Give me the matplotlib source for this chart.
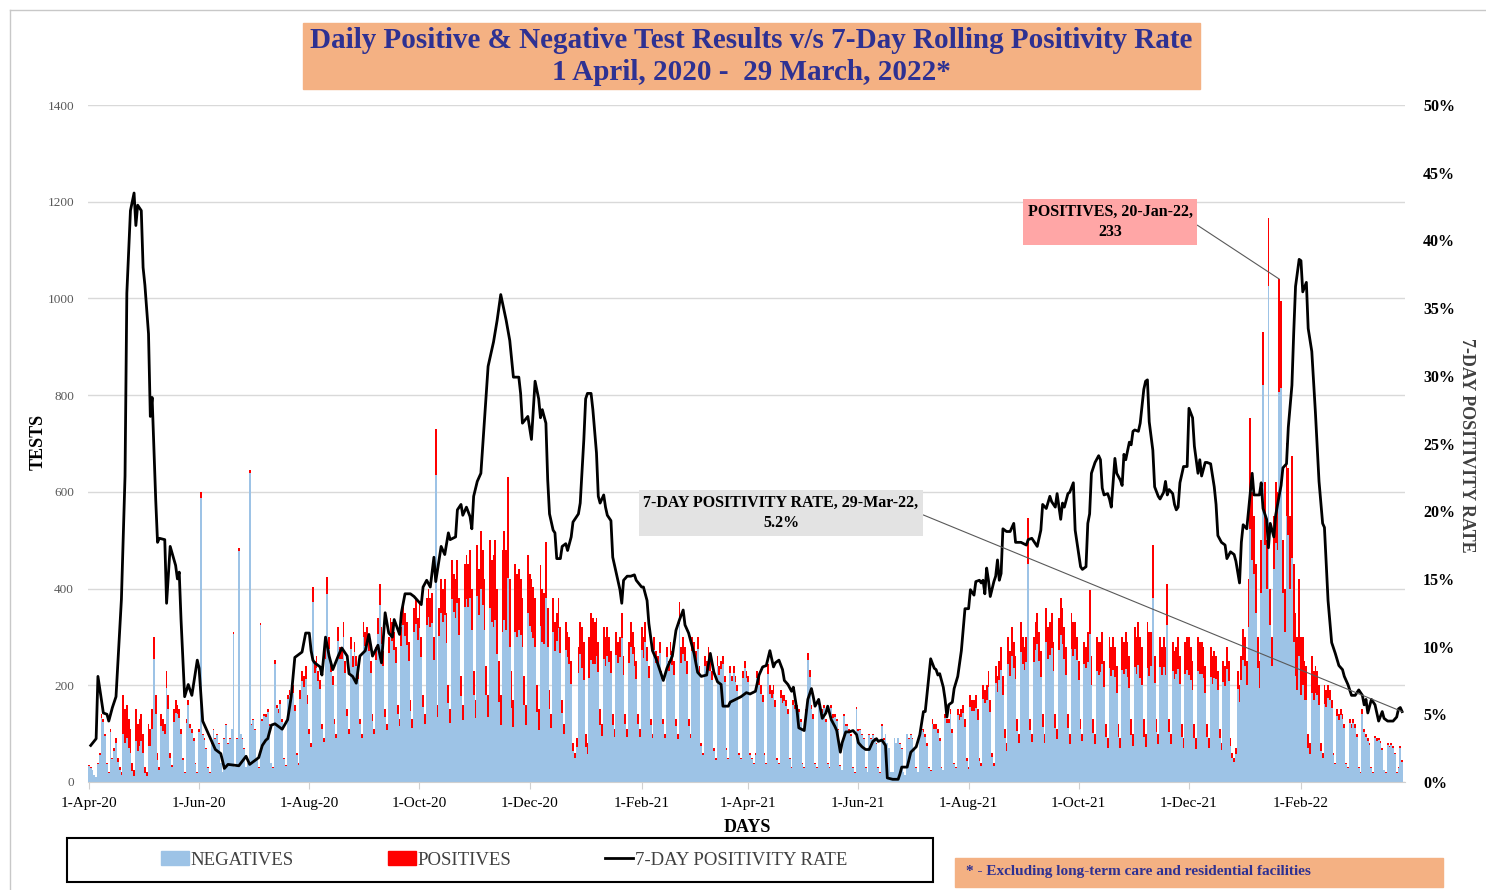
import numpy as np
import pandas as pd
import matplotlib
matplotlib.use("Agg")
import matplotlib.pyplot as plt
import matplotlib.dates as mdates
from matplotlib.patches import Rectangle, Patch
from matplotlib.lines import Line2D
from matplotlib.ticker import FuncFormatter

plt.rcParams['font.family'] = ['Liberation Serif', 'DejaVu Serif']

start = pd.Timestamp("2020-04-01")
days = pd.date_range("2020-04-01", "2022-03-29", freq="D")

# daily tests (negatives + positives), one row per week, Wed..Tue
total_tests = [
    [35, 30, 25, 15, 10, 40, 60], [140, 130, 100, 40, 20, 110, 50], [70, 90, 50, 30, 20, 180, 150],
    [160, 130, 110, 40, 25, 150, 120], [130, 140, 100, 30, 20, 120, 110], [150, 300, 180, 60, 30, 140, 130],
    [120, 230, 180, 60, 35, 150, 170], [160, 150, 110, 50, 20, 130, 170], [120, 110, 90, 40, 20, 110, 600],
    [100, 90, 70, 30, 20, 80, 110], [90, 100, 80, 40, 20, 90, 120], [80, 90, 110, 311, 30, 90, 484],
    [100, 90, 70, 30, 40, 645, 120], [130, 110, 50, 30, 329, 130, 140], [140, 150, 120, 40, 30, 252, 160],
    [150, 170, 130, 50, 35, 180, 190], [180, 200, 160, 60, 40, 190, 230], [220, 240, 180, 110, 80, 403, 250],
    [260, 230, 210, 120, 90, 280, 424], [300, 250, 220, 130, 100, 320, 280], [280, 330, 250, 150, 110, 300, 260],
    [290, 260, 230, 130, 100, 330, 310], [320, 300, 250, 140, 110, 280, 340], [410, 320, 270, 150, 120, 300, 340],
    [330, 310, 280, 160, 130, 320, 370], [350, 330, 290, 170, 130, 360, 380], [340, 370, 300, 180, 140, 380, 400],
    [380, 390, 300, 729, 160, 360, 420], [400, 420, 350, 200, 150, 460, 430], [420, 460, 380, 220, 160, 450, 470],
    [450, 480, 400, 230, 170, 490, 440], [520, 480, 420, 240, 180, 500, 460], [470, 500, 400, 250, 180, 480, 520],
    [480, 631, 420, 230, 170, 450, 430], [440, 420, 380, 220, 160, 470, 430], [420, 403, 380, 200, 150, 448, 400],
    [390, 496, 360, 190, 140, 380, 330], [350, 380, 320, 170, 120, 330, 310], [300, 250, 80, 60, 90, 280, 330],
    [320, 290, 100, 80, 300, 350, 340], [330, 340, 290, 150, 120, 320, 300], [320, 300, 270, 140, 110, 310, 290],
    [300, 350, 260, 140, 110, 290, 330], [310, 280, 250, 140, 110, 320, 300], [330, 280, 240, 130, 100, 300, 270],
    [260, 290, 230, 130, 100, 280, 250], [290, 270, 250, 130, 100, 372, 280], [300, 280, 250, 130, 100, 300, 290],
    [270, 300, 240, 80, 60, 260, 250], [280, 250, 230, 70, 50, 260, 240], [250, 260, 220, 70, 50, 240, 220],
    [240, 220, 200, 60, 50, 230, 250], [230, 220, 60, 50, 40, 60, 230], [218, 200, 180, 60, 40, 245, 200],
    [190, 200, 170, 50, 40, 190, 180], [180, 170, 150, 50, 30, 170, 160], [160, 150, 130, 40, 30, 150, 266],
    [231, 160, 140, 40, 30, 170, 150], [150, 160, 130, 40, 30, 160, 140], [140, 130, 110, 35, 25, 140, 120],
    [120, 110, 100, 30, 20, 155, 110], [110, 100, 90, 30, 20, 100, 90], [100, 90, 80, 30, 20, 120, 90],
    [100, 80, 70, 20, 20, 90, 80], [90, 80, 70, 20, 15, 100, 90], [100, 90, 70, 30, 20, 100, 110],
    [110, 100, 80, 30, 25, 130, 120], [120, 110, 90, 30, 25, 140, 130], [130, 150, 110, 40, 30, 150, 140],
    [150, 160, 130, 50, 30, 180, 170], [170, 180, 150, 50, 40, 200, 190], [200, 230, 170, 60, 40, 240, 220],
    [250, 280, 220, 110, 80, 300, 270], [320, 290, 260, 130, 100, 330, 300], [280, 300, 545, 130, 100, 300, 330],
    [350, 310, 270, 140, 100, 360, 320], [330, 350, 290, 140, 110, 340, 380], [360, 320, 280, 140, 100, 350, 330],
    [330, 300, 250, 130, 100, 290, 280], [310, 397, 260, 130, 100, 300, 290], [290, 310, 250, 120, 90, 300, 280],
    [300, 280, 240, 120, 90, 300, 290], [310, 290, 260, 130, 100, 320, 300], [330, 300, 280, 130, 100, 330, 310],
    [310, 490, 260, 130, 100, 300, 280], [300, 280, 410, 130, 100, 290, 270], [280, 300, 260, 120, 90, 290, 300],
    [300, 280, 250, 120, 90, 300, 290], [290, 280, 240, 120, 90, 280, 260], [270, 260, 230, 110, 80, 250, 240],
    [280, 250, 90, 60, 50, 70, 230], [200, 260, 317, 300, 250, 420, 753], [600, 550, 450, 300, 250, 500, 931],
    [620, 500, 1167, 400, 300, 550, 620], [600, 1040, 994, 500, 400, 700, 650], [550, 674, 450, 350, 300, 420, 300],
    [300, 250, 240, 100, 80, 260, 230], [240, 230, 200, 80, 60, 200, 190], [200, 190, 170, 60, 40, 150, 140],
    [150, 140, 120, 40, 30, 130, 120], [130, 120, 100, 30, 20, 150, 110], [100, 90, 80, 30, 20, 95, 90],
    [90, 85, 70, 25, 20, 80, 75], [80, 75, 60, 20, 30, 75, 45],
]

positives = [
    [1, 1, 1, 1, 0, 3, 4], [7, 6, 5, 2, 1, 6, 3], [6, 10, 8, 6, 5, 80, 70],
    [70, 60, 50, 18, 12, 65, 55], [55, 55, 40, 12, 8, 45, 35], [40, 45, 40, 15, 6, 25, 25],
    [20, 35, 30, 10, 5, 25, 28], [20, 18, 10, 5, 2, 8, 10], [8, 8, 6, 3, 1, 7, 12],
    [3, 3, 2, 1, 1, 2, 3], [2, 2, 1, 1, 0, 1, 2], [1, 1, 1, 5, 0, 1, 6],
    [1, 1, 1, 0, 1, 5, 2], [2, 2, 1, 1, 4, 3, 4], [5, 6, 4, 1, 1, 8, 6],
    [7, 8, 6, 2, 2, 9, 10], [12, 16, 14, 5, 4, 18, 22], [24, 26, 18, 11, 8, 30, 24],
    [24, 22, 18, 10, 8, 26, 36], [25, 22, 20, 11, 9, 28, 26], [26, 30, 24, 14, 10, 25, 22],
    [22, 20, 18, 10, 8, 30, 28], [32, 30, 25, 14, 11, 28, 34], [45, 35, 30, 16, 13, 33, 38],
    [38, 36, 33, 19, 15, 38, 45], [49, 46, 40, 24, 18, 50, 53], [46, 52, 42, 25, 20, 55, 58],
    [60, 62, 48, 95, 26, 58, 70], [70, 75, 62, 36, 27, 82, 78], [80, 90, 75, 42, 31, 88, 92],
    [88, 100, 85, 50, 37, 105, 95], [120, 115, 105, 60, 45, 140, 130], [150, 165, 135, 85, 62, 170, 185],
    [165, 210, 140, 76, 56, 140, 130], [125, 115, 100, 60, 43, 120, 108], [110, 105, 100, 55, 42, 125, 110],
    [105, 115, 80, 40, 29, 70, 60], [58, 62, 54, 28, 20, 56, 52], [55, 48, 15, 11, 17, 55, 65],
    [85, 80, 28, 22, 85, 98, 95], [85, 80, 62, 33, 24, 65, 60], [60, 52, 44, 22, 16, 48, 43],
    [42, 52, 38, 20, 16, 44, 50], [46, 41, 36, 20, 16, 46, 43], [40, 30, 24, 13, 9, 26, 24],
    [21, 23, 18, 10, 8, 22, 20], [28, 28, 28, 14, 11, 45, 33], [35, 30, 26, 14, 10, 30, 28],
    [21, 24, 19, 6, 5, 20, 19], [23, 21, 19, 6, 4, 21, 18], [16, 16, 13, 4, 3, 14, 12],
    [14, 13, 12, 4, 3, 14, 15], [15, 14, 4, 3, 3, 4, 15], [18, 17, 15, 5, 3, 21, 18],
    [17, 18, 15, 4, 3, 17, 16], [13, 12, 10, 3, 2, 11, 9], [7, 6, 5, 2, 1, 7, 14],
    [14, 10, 9, 3, 2, 10, 9], [7, 8, 6, 2, 1, 8, 7], [5, 4, 3, 1, 1, 4, 4],
    [4, 4, 4, 1, 1, 5, 4], [3, 3, 2, 1, 0, 3, 2], [3, 3, 2, 1, 1, 4, 3],
    [1, 0, 0, 0, 0, 0, 0], [0, 1, 1, 0, 0, 1, 1], [2, 2, 2, 1, 0, 3, 3],
    [6, 6, 6, 2, 2, 11, 10], [10, 9, 6, 2, 1, 8, 7], [8, 10, 8, 3, 2, 11, 11],
    [15, 18, 16, 6, 4, 24, 23], [24, 26, 22, 7, 6, 29, 27], [30, 34, 25, 9, 6, 36, 34],
    [40, 48, 40, 20, 15, 55, 50], [60, 55, 48, 24, 19, 62, 55], [49, 52, 95, 23, 17, 52, 58],
    [65, 60, 52, 26, 19, 70, 65], [68, 72, 60, 29, 22, 68, 75], [75, 66, 58, 29, 21, 74, 70],
    [55, 48, 40, 21, 16, 46, 45], [62, 90, 60, 29, 22, 70, 68], [62, 66, 53, 26, 19, 64, 60],
    [68, 63, 55, 27, 20, 68, 67], [77, 73, 66, 33, 25, 82, 77], [88, 84, 80, 36, 28, 95, 90],
    [70, 110, 55, 27, 21, 63, 58], [62, 58, 85, 27, 21, 60, 56], [57, 66, 58, 27, 20, 66, 69],
    [78, 70, 60, 29, 22, 70, 66], [66, 64, 55, 27, 20, 63, 58], [54, 48, 40, 19, 14, 44, 42],
    [47, 42, 15, 10, 8, 12, 38], [35, 50, 65, 60, 50, 100, 230], [140, 120, 100, 65, 55, 110, 111],
    [130, 100, 141, 75, 60, 110, 125], [120, 233, 180, 110, 90, 150, 140], [150, 210, 160, 130, 110, 160, 120],
    [100, 80, 70, 30, 22, 75, 60], [55, 50, 40, 15, 11, 38, 34], [26, 20, 16, 5, 3, 13, 12],
    [12, 10, 8, 3, 2, 8, 8], [8, 8, 6, 2, 1, 9, 7], [6, 5, 4, 2, 1, 5, 5],
    [4, 4, 3, 1, 1, 4, 3], [4, 4, 3, 1, 2, 4, 3],
]

# 7-day rolling positivity rate, (day since 1-Apr-20, percent)
rate_points = [
    (1, 2.7), (4, 3.2), (5, 7.8), (8, 5.1), (10, 5.0), (11, 4.5), (13, 5.5), (15, 6.3), (16, 8.7), (18, 13.5),
    (20, 22.6), (21, 36.1), (22, 39.1), (23, 42.2), (25, 43.5), (26, 41.1), (27, 42.6), (29, 42.2), (30, 38.0),
    (31, 36.7), (33, 33.1), (34, 27.0), (35, 28.4), (37, 20.8), (38, 17.7), (39, 18.0), (42, 17.9), (43, 13.2),
    (45, 17.4), (48, 16.0), (49, 15.0), (50, 15.5), (51, 12.0), (53, 6.3), (55, 7.2), (57, 6.4), (60, 9.0),
    (61, 8.4), (63, 4.5), (65, 3.9), (70, 2.4), (73, 2.1), (75, 1.0), (77, 1.3), (83, 1.2), (87, 1.9), (89, 1.3),
    (94, 1.8), (96, 2.7), (98, 3.1), (99, 3.2), (101, 4.2), (103, 4.3), (107, 3.9), (110, 4.6), (112, 6.3),
    (114, 9.2), (118, 9.6), (120, 11.0), (122, 11.0), (123, 9.7), (124, 9.0), (125, 8.8), (128, 8.5), (129, 7.9),
    (131, 10.7), (133, 9.3), (135, 8.3), (138, 9.3), (140, 9.9), (143, 9.3), (144, 8.0), (146, 7.8), (148, 7.3),
    (150, 9.3), (153, 9.7), (155, 10.9), (157, 9.3), (160, 10.1), (162, 8.8), (164, 12.5), (166, 11.0),
    (168, 10.7), (169, 12.0), (172, 10.9), (173, 12.5), (175, 13.9), (178, 13.9), (180, 13.7), (184, 13.1),
    (185, 14.4), (187, 14.9), (189, 14.4), (191, 16.6), (192, 14.8), (195, 17.4), (197, 16.8), (199, 18.4),
    (200, 17.9), (203, 18.1), (204, 20.1), (206, 20.5), (207, 19.7), (209, 20.3), (211, 19.6), (212, 18.7),
    (213, 21.1), (215, 22.2), (217, 22.8), (219, 26.7), (221, 30.7), (224, 32.5), (226, 34.1), (228, 36.0),
    (231, 34.1), (233, 32.6), (235, 29.9), (238, 29.9), (239, 28.7), (240, 26.5), (243, 27.0), (245, 25.3),
    (247, 29.6), (249, 28.3), (250, 26.9), (251, 27.5), (253, 26.5), (254, 22.3), (255, 19.8), (257, 18.6),
    (258, 18.4), (259, 16.5), (261, 16.5), (262, 17.4), (264, 17.6), (265, 17.1), (267, 18.1), (268, 19.2),
    (271, 19.8), (272, 20.6), (274, 25.3), (275, 28.3), (276, 28.7), (278, 28.7), (279, 27.5), (281, 24.3),
    (282, 21.1), (283, 20.6), (285, 21.2), (286, 20.3), (287, 19.7), (289, 19.3), (290, 16.6), (292, 15.4),
    (294, 14.2), (295, 13.2), (296, 14.9), (298, 15.2), (300, 15.2), (302, 15.3), (303, 14.9), (306, 14.4),
    (307, 14.4), (309, 13.4), (310, 11.7), (312, 9.7), (314, 9.1), (316, 8.3), (318, 7.5), (320, 8.4),
    (323, 9.3), (325, 11.2), (327, 12.0), (329, 12.7), (330, 11.6), (332, 11.0), (333, 10.5), (335, 9.5),
    (337, 8.1), (339, 7.8), (342, 7.9), (344, 9.5), (346, 8.1), (348, 7.4), (350, 7.2), (351, 5.6), (354, 5.6),
    (355, 5.9), (358, 6.1), (361, 6.3), (364, 6.6), (366, 6.5), (369, 6.7), (371, 7.9), (373, 8.5), (375, 8.6),
    (377, 9.7), (379, 8.5), (380, 8.8), (382, 9.0), (384, 8.3), (385, 7.5), (387, 7.2), (389, 6.7), (390, 7.0),
    (392, 5.3), (393, 4.0), (396, 3.8), (398, 6.1), (400, 6.9), (401, 6.3), (402, 5.6), (404, 6.1), (406, 4.7),
    (408, 5.1), (409, 5.6), (411, 4.6), (413, 4.1), (414, 3.8), (416, 2.2), (417, 2.9), (419, 3.7), (421, 3.7),
    (423, 3.8), (425, 3.5), (426, 2.9), (428, 2.6), (430, 2.4), (432, 2.4), (434, 3.0), (436, 3.2), (437, 3.0),
    (439, 3.1), (441, 2.7), (442, 0.3), (445, 0.2), (448, 0.2), (449, 0.6), (450, 1.1), (453, 1.1), (455, 2.2),
    (458, 2.6), (460, 3.5), (462, 5.2), (463, 5.2), (465, 7.8), (466, 9.1), (468, 8.4), (469, 8.3), (470, 7.9),
    (471, 8.0), (473, 7.0), (474, 6.1), (475, 4.8), (476, 5.7), (478, 5.9), (479, 6.9), (481, 7.8), (483, 9.7),
    (485, 12.8), (487, 12.8), (488, 14.2), (490, 13.8), (491, 14.8), (493, 14.9), (494, 14.7), (495, 14.9),
    (496, 13.9), (497, 15.8), (498, 14.9), (499, 13.7), (501, 14.8), (502, 15.2), (503, 16.4), (504, 14.9),
    (505, 15.4), (506, 18.7), (508, 18.5), (510, 18.5), (512, 19.1), (513, 17.7), (516, 17.7), (519, 17.5),
    (520, 17.9), (522, 18.0), (524, 17.6), (525, 17.4), (527, 18.6), (528, 20.5), (530, 20.2), (532, 21.1),
    (533, 20.7), (535, 20.3), (536, 21.3), (538, 19.4), (539, 20.6), (540, 20.3), (542, 21.3), (543, 21.4),
    (545, 22.1), (546, 18.6), (547, 17.7), (549, 15.9), (550, 15.7), (552, 15.9), (553, 19.1), (554, 19.8),
    (555, 22.8), (557, 23.6), (559, 24.1), (560, 23.8), (561, 21.7), (562, 21.2), (564, 21.3), (565, 20.9),
    (566, 20.3), (568, 23.9), (569, 22.8), (571, 22.3), (572, 21.9), (573, 24.2), (574, 23.8), (576, 25.1),
    (577, 24.9), (578, 25.9), (579, 26.0), (581, 25.9), (582, 26.5), (584, 29.0), (585, 29.6), (586, 29.7),
    (587, 26.6), (589, 24.5), (590, 21.8), (592, 21.1), (593, 20.9), (595, 21.4), (596, 22.2), (597, 21.2),
    (598, 21.6), (600, 21.3), (601, 20.5), (602, 20.1), (603, 20.3), (604, 22.1), (606, 23.3), (608, 23.3),
    (609, 27.6), (611, 26.9), (612, 24.8), (613, 23.8), (614, 22.8), (615, 23.8), (616, 22.6), (618, 23.6),
    (619, 23.6), (621, 23.5), (623, 21.8), (624, 20.5), (625, 18.2), (627, 17.7), (629, 17.5), (630, 16.5),
    (632, 17.0), (634, 16.8), (635, 16.3), (637, 14.7), (638, 17.7), (639, 19.0), (641, 18.7), (643, 21.4),
    (644, 22.8), (645, 21.2), (648, 21.2), (649, 22.1), (650, 20.2), (652, 19.4), (653, 17.3), (654, 19.1),
    (656, 18.1), (657, 19.7), (659, 21.2), (660, 21.9), (661, 23.2), (663, 23.5), (664, 26.2), (666, 29.3),
    (667, 33.2), (668, 36.6), (670, 38.6), (671, 38.5), (672, 36.2), (674, 36.9), (675, 33.5), (677, 31.8),
    (679, 27.3), (681, 22.2), (683, 19.1), (684, 18.8), (686, 13.4), (688, 10.3), (690, 9.5), (692, 8.6),
    (694, 8.3), (695, 7.8), (697, 7.2), (699, 6.4), (701, 6.4), (703, 6.8), (705, 6.4), (706, 5.7), (707, 6.1),
    (708, 5.1), (710, 6.1), (712, 5.7), (714, 4.5), (716, 5.2), (717, 4.7), (719, 4.5), (722, 4.5), (724, 4.8),
    (725, 5.4), (726, 5.5), (727, 5.2),
]

tick_dates = pd.date_range("2020-04-01", periods=12, freq="2MS")
tick_labels = ["1-Apr-20", "1-Jun-20", "1-Aug-20", "1-Oct-20", "1-Dec-20", "1-Feb-21",
               "1-Apr-21", "1-Jun-21", "1-Aug-21", "1-Oct-21", "1-Dec-21", "1-Feb-22"]

total_tests = np.array(total_tests).ravel()
positives = np.array(positives).ravel()
negatives = total_tests - positives
rate_day = np.array([p[0] for p in rate_points])
rate_pct = np.array([p[1] for p in rate_points])
rate_dates = start + pd.to_timedelta(rate_day, unit="D")

W, H = 1486, 890
fig = plt.figure(figsize=(W / 100, H / 100), dpi=100)


def fx(x):
    return x / W


def fy(y):
    return 1 - y / H


NAVY = "#2E3192"
ORANGE = "#F4B183"
BLUE = "#9DC3E6"

# outer frame
fig.add_artist(Line2D([fx(10), fx(10)], [0, fy(10)], color="#C8C8C8", lw=1))
fig.add_artist(Line2D([fx(10), 1], [fy(10), fy(10)], color="#C8C8C8", lw=1))

ax = fig.add_axes([fx(88), fy(782), fx(1405) - fx(88), fy(105) - fy(782)])
ax.bar(days, negatives, width=1.0, color=BLUE, linewidth=0, zorder=2)
ax.bar(days, positives, bottom=negatives, width=1.0, color="#FF0000", linewidth=0, zorder=2)

x0 = mdates.date2num(start)
ax.set_xlim(x0 - 0.5, x0 + 728.6)
ax.set_ylim(0, 1400)
ax.set_yticks(range(0, 1401, 200))
ax.grid(axis="y", color="#D9D9D9", lw=1, zorder=0)
ax.set_axisbelow(True)
ax.set_xticks(tick_dates)
ax.set_xticklabels(tick_labels)
for s in ["top", "right", "left"]:
    ax.spines[s].set_visible(False)
ax.spines["bottom"].set_color("#D0D0D0")
ax.tick_params(axis="y", length=0, pad=10, labelsize=9.5, labelcolor="#595959")
ax.tick_params(axis="x", length=5, color="#D0D0D0", pad=6, labelsize=11, labelcolor="black")

ax2 = ax.twinx()
ax2.plot(rate_dates, rate_pct / 100, color="black", lw=2, zorder=5)
ax2.set_ylim(0, 0.5)
ax2.set_yticks(np.arange(0, 0.501, 0.05))
ax2.yaxis.set_major_formatter(FuncFormatter(lambda v, p: f"{v * 100:.0f}%"))
for s in ax2.spines.values():
    s.set_visible(False)
ax2.tick_params(axis="y", length=0, pad=13, labelsize=11.5)
for t in ax2.get_yticklabels():
    t.set_fontweight("bold")

# axis titles
fig.text(fx(38), fy(442), "TESTS", rotation=90, ha="center", va="center", fontsize=13, fontweight="bold")
fig.text(fx(1466), fy(445), "7-DAY POSITIVITY RATE", rotation=270, ha="center", va="center",
         fontsize=13, fontweight="bold", color="#404040")
fig.text(fx(747), fy(827), "DAYS", ha="center", va="center", fontsize=13, fontweight="bold")

# title box
fig.add_artist(Rectangle((fx(303), fy(89)), fx(1200) - fx(303), fy(23) - fy(89),
                         transform=fig.transFigure, color=ORANGE, zorder=0))
fig.text(fx(751), fy(40), "Daily Positive & Negative Test Results v/s 7-Day Rolling Positivity Rate",
         ha="center", va="center", fontsize=21, fontweight="bold", color=NAVY)
fig.text(fx(751), fy(72), "1 April, 2020 -  29 March, 2022*",
         ha="center", va="center", fontsize=21, fontweight="bold", color=NAVY)

# footnote box
fig.add_artist(Rectangle((fx(955), fy(887)), fx(1443) - fx(955), fy(858) - fy(887),
                         transform=fig.transFigure, color=ORANGE, zorder=0))
fig.text(fx(966), fy(872), "* - Excluding long-term care and residential facilities",
         ha="left", va="center", fontsize=11, fontweight="bold", color=NAVY)

# legend box
fig.add_artist(Rectangle((fx(67), fy(882)), fx(933) - fx(67), fy(838) - fy(882),
                         transform=fig.transFigure, fill=False, ec="black", lw=1.5))
handles = [Patch(color=BLUE), Patch(color="#FF0000"), Line2D([], [], color="black", lw=2)]
fig.legend(handles, ["NEGATIVES", "POSITIVES", "7-DAY POSITIVITY RATE"], loc="center",
           bbox_to_anchor=(fx(504), fy(860)), ncol=3, frameon=False, fontsize=13.5,
           handlelength=1.5, handletextpad=0.1, columnspacing=5.0, labelcolor="#404040")

# annotations
ax.annotate("POSITIVES, 20-Jan-22,\n233", xy=(days[659], total_tests[659]),
            xytext=(1110, H - 222), textcoords="figure pixels", ha="center", va="center",
            fontsize=11.5, fontweight="bold", linespacing=1.3,
            bbox=dict(boxstyle="square,pad=0.3", fc="#FFA6A6", ec="none"),
            arrowprops=dict(arrowstyle="-", color="#595959", lw=0.8, relpos=(1, 0.5),
                            shrinkA=0, shrinkB=0), zorder=6)
ax2.annotate("7-DAY POSITIVITY RATE, 29-Mar-22,\n5.2%", xy=(days[727], 0.052),
             xytext=(781, H - 513), textcoords="figure pixels", ha="center", va="center",
             fontsize=11.5, fontweight="bold", linespacing=1.3,
             bbox=dict(boxstyle="square,pad=0.3", fc="#E3E3E3", ec="none"),
             arrowprops=dict(arrowstyle="-", color="#595959", lw=0.8, relpos=(1, 0.5),
                             shrinkA=0, shrinkB=0), zorder=6)

fig.savefig("out.png", dpi=100)
